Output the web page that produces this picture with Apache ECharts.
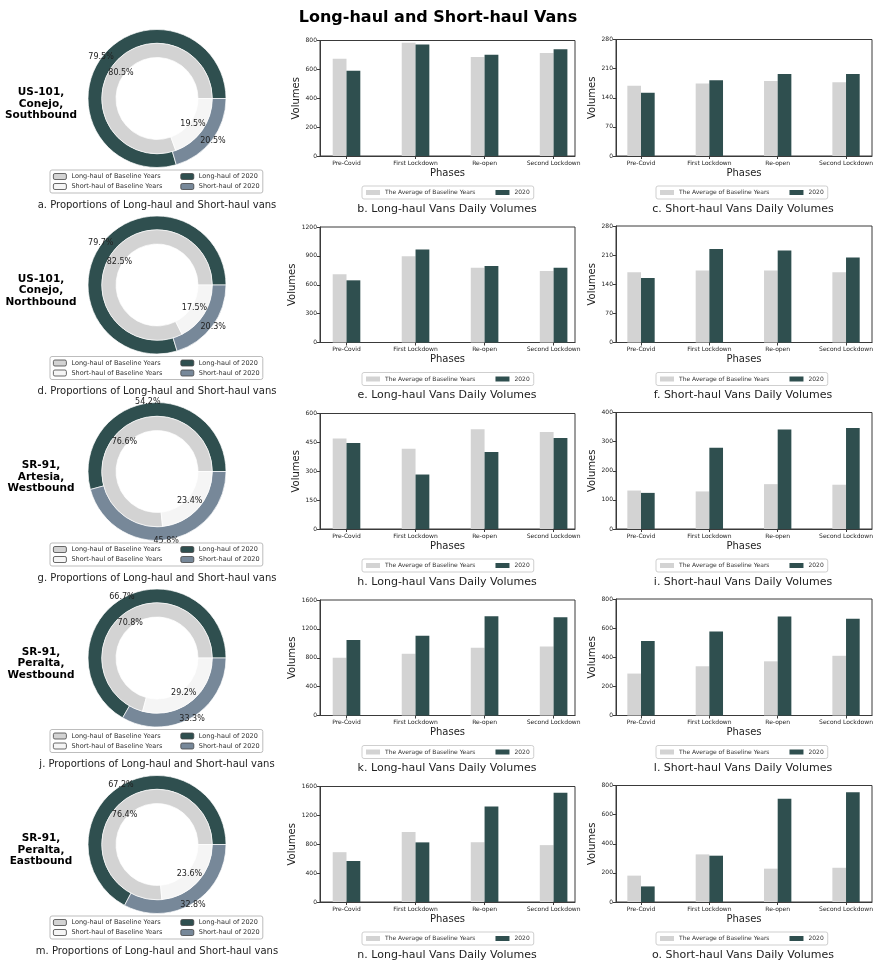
<!DOCTYPE html>
<html>
<head>
<meta charset="utf-8">
<script src="https://cdn.jsdelivr.net/npm/echarts@6/dist/echarts.min.js"></script>
<style>
  html, body { margin: 0; padding: 0; background: #fff; }
  #chart { width: 876px; height: 962px; }
</style>
</head>
<body>
<div id="chart"></div>
<script>
// Phases on the bar charts' x axis
const phases = ['Pre-Covid', 'First Lockdown', 'Re-open', 'Second Lockdown'];

// Count stations, one per row
const stations = [
  'US-101,\nConejo,\nSouthbound',
  'US-101,\nConejo,\nNorthbound',
  'SR-91,\nArtesia,\nWestbound',
  'SR-91,\nPeralta,\nWestbound',
  'SR-91,\nPeralta,\nEastbound'
];
const panelLetters = [['a', 'b', 'c'], ['d', 'e', 'f'], ['g', 'h', 'i'], ['j', 'k', 'l'], ['m', 'n', 'o']];

// Shares of long-haul and short-haul vans (%), per station
const share2020Long = [79.5, 79.7, 54.2, 66.7, 67.2];
const share2020Short = [20.5, 20.3, 45.8, 33.3, 32.8];
const shareBaseLong = [80.5, 82.5, 76.6, 70.8, 76.4];
const shareBaseShort = [19.5, 17.5, 23.4, 29.2, 23.6];

// Long-haul daily volumes per phase
const longBase = [
  [673, 784, 685, 713],
  [708, 897, 777, 743],
  [470, 417, 518, 504],
  [800, 855, 937, 955],
  [690, 968, 828, 788]
];
const long2020 = [
  [591, 772, 701, 739],
  [646, 966, 794, 777],
  [447, 283, 400, 473],
  [1047, 1106, 1376, 1362],
  [568, 826, 1322, 1512]
];

// Short-haul daily volumes per phase
const shortBase = [
  [169, 174, 180, 177],
  [169, 173, 173, 169],
  [132, 129, 154, 152],
  [288, 338, 372, 410],
  [181, 327, 229, 235]
];
const short2020 = [
  [152, 182, 197, 197],
  [155, 225, 221, 204],
  [124, 279, 342, 347],
  [512, 577, 680, 665],
  [107, 318, 709, 754]
];

// Y-axis tops (four equal tick steps each)
const longMax = [800, 1200, 600, 1600, 1600];
const shortMax = [280, 280, 400, 800, 800];

const C_LONG_2020 = '#2F4F4F';
const C_SHORT_2020 = '#778899';
const C_LONG_BASE = '#D3D3D3';
const C_SHORT_BASE = '#F5F5F5';
const TXT = '#222';
const FONT = 'DejaVu Sans';

const ROW = 186.5;
const grids = [], xAxes = [], yAxes = [], series = [], legends = [], graphics = [];

function barPanel(gi, left, top, width, height, xMin, xMax, yMax, base, cur) {
  grids.push({ left, top, width, height, show: true, borderColor: '#3a3a3a', borderWidth: 1, backgroundColor: 'transparent' });
  const ticks = phases.map((p, k) => k);
  xAxes.push({
    type: 'value', gridIndex: gi, min: xMin, max: xMax,
    axisLine: { show: true, onZero: false, lineStyle: { color: '#3a3a3a' } },
    splitLine: { show: false },
    axisTick: { show: true, customValues: ticks, length: 3, lineStyle: { color: '#3a3a3a' } },
    axisLabel: { customValues: ticks, formatter: v => phases[v], fontSize: 6, color: TXT, margin: 4, fontFamily: FONT },
    name: 'Phases', nameLocation: 'middle', nameGap: 12,
    nameTextStyle: { fontSize: 10, color: TXT, fontFamily: FONT }
  });
  yAxes.push({
    type: 'value', gridIndex: gi, min: 0, max: yMax, interval: yMax / 4,
    axisLine: { show: true, onZero: false, lineStyle: { color: '#3a3a3a' } },
    splitLine: { show: false },
    axisTick: { show: true, length: 3, lineStyle: { color: '#3a3a3a' } },
    axisLabel: { fontSize: 6, color: TXT, margin: 3, fontFamily: FONT, formatter: v => String(v) },
    name: 'Volumes', nameLocation: 'middle', nameGap: String(yMax).length * 4 + 3,
    nameTextStyle: { fontSize: 10, color: TXT, fontFamily: FONT }
  });
  series.push({
    type: 'bar', name: 'The Average of Baseline Years', xAxisIndex: gi, yAxisIndex: gi,
    data: base.map((v, k) => [k, v]), barWidth: '20%', barGap: '0%',
    itemStyle: { color: C_LONG_BASE }, silent: true
  });
  series.push({
    type: 'bar', name: '2020', xAxisIndex: gi, yAxisIndex: gi,
    data: cur.map((v, k) => [k, v]), barWidth: '20%', barGap: '0%',
    itemStyle: { color: C_LONG_2020 }, silent: true
  });
}

function barLegend(left, top) {
  legends.push({
    left, top, orient: 'horizontal', selectedMode: false,
    data: ['The Average of Baseline Years', '2020'],
    icon: 'rect', itemWidth: 14, itemHeight: 5, itemGap: 20,
    padding: [3, 4], borderColor: '#cfcfcf', borderWidth: 1, borderRadius: 2, backgroundColor: '#fff',
    textStyle: { fontSize: 6, color: '#333', fontFamily: FONT, lineHeight: 7 }
  });
}

function pctLabel(p) { return p.value.toFixed(1) + '%'; }

const pieBase = {
  type: 'pie', startAngle: 0, clockwise: false, avoidLabelOverlap: false,
  silent: true, legendHoverLink: false, emphasis: { disabled: true }, labelLine: { show: false }
};

for (let i = 0; i < stations.length; i++) {
  const off = ROW * i;
  const cy = 98.5 + off;
  const outerData = [
    { name: 'Long-haul of 2020', value: share2020Long[i], itemStyle: { color: C_LONG_2020 } },
    { name: 'Short-haul of 2020', value: share2020Short[i], itemStyle: { color: C_SHORT_2020 } }
  ];
  const innerData = [
    { name: 'Long-haul of Baseline Years', value: shareBaseLong[i], itemStyle: { color: C_LONG_BASE } },
    { name: 'Short-haul of Baseline Years', value: shareBaseShort[i], itemStyle: { color: C_SHORT_BASE } }
  ];
  // rings
  series.push(Object.assign({}, pieBase, {
    center: [157, cy], radius: [55, 69], data: outerData,
    itemStyle: { borderColor: '#fff', borderWidth: 0.7 }, label: { show: false }
  }));
  series.push(Object.assign({}, pieBase, {
    center: [157, cy], radius: [41, 55.3], data: innerData,
    itemStyle: { borderColor: '#fff', borderWidth: 0.7 }, label: { show: false }
  }));
  // percentage labels (transparent rings that only carry text)
  const labelStyle = { show: true, position: 'inside', formatter: pctLabel, fontSize: 8, color: TXT, fontFamily: FONT };
  series.push(Object.assign({}, pieBase, {
    center: [157, cy], radius: [62, 72],
    data: outerData.map(d => ({ name: d.name, value: d.value })),
    itemStyle: { color: 'rgba(0,0,0,0)', borderWidth: 0 }, label: labelStyle
  }));
  series.push(Object.assign({}, pieBase, {
    center: [157, cy], radius: [36, 46],
    data: innerData.map(d => ({ name: d.name, value: d.value })),
    itemStyle: { color: 'rgba(0,0,0,0)', borderWidth: 0 }, label: labelStyle
  }));

  // pie legend, two columns
  legends.push({
    left: 50, top: 170 + off, orient: 'horizontal', width: 260, selectedMode: false,
    icon: 'roundRect', itemWidth: 13, itemHeight: 6, itemGap: 3, padding: [3, 3],
    borderColor: '#bdbdbd', borderWidth: 1, borderRadius: 2, backgroundColor: '#fff',
    itemStyle: { borderColor: '#444', borderWidth: 0.8 },
    textStyle: { fontSize: 6.5, color: '#333', fontFamily: FONT, lineHeight: 7 },
    data: [
      { name: 'Long-haul of Baseline Years', textStyle: { width: 106 } },
      { name: 'Long-haul of 2020', textStyle: { width: 61 } },
      { name: 'Short-haul of Baseline Years', textStyle: { width: 106 } },
      { name: 'Short-haul of 2020', textStyle: { width: 61 } }
    ]
  });

  // bar panels
  barPanel(2 * i, 320, 40.5 + off, 255, 115.5, -0.384, 3.31, longMax[i], longBase[i], long2020[i]);
  barPanel(2 * i + 1, 616, 39.5 + off, 256, 116.5, -0.366, 3.38, shortMax[i], shortBase[i], short2020[i]);
  barLegend(362, 186 + off);
  barLegend(656, 186 + off);

  // station name
  graphics.push({
    type: 'text', silent: true,
    style: { text: stations[i], x: 41, y: 104 + off, textAlign: 'center', textVerticalAlign: 'middle',
      font: 'bold 10.5px "DejaVu Sans"', lineHeight: 11.5, fill: '#000' }
  });
  // captions
  graphics.push({
    type: 'text', silent: true,
    style: { text: panelLetters[i][0] + '. Proportions of Long-haul and Short-haul vans', x: 157, y: 205 + off,
      textAlign: 'center', textVerticalAlign: 'middle', font: '10px "DejaVu Sans"', fill: TXT }
  });
  graphics.push({
    type: 'text', silent: true,
    style: { text: panelLetters[i][1] + '. Long-haul Vans Daily Volumes', x: 447, y: 209 + off,
      textAlign: 'center', textVerticalAlign: 'middle', font: '11px "DejaVu Sans"', fill: TXT }
  });
  graphics.push({
    type: 'text', silent: true,
    style: { text: panelLetters[i][2] + '. Short-haul Vans Daily Volumes', x: 743, y: 209 + off,
      textAlign: 'center', textVerticalAlign: 'middle', font: '11px "DejaVu Sans"', fill: TXT }
  });
}

const chart = echarts.init(document.getElementById('chart'), null, { renderer: 'canvas' });
chart.setOption({
  backgroundColor: '#fff',
  animation: false,
  textStyle: { fontFamily: FONT },
  title: {
    text: 'Long-haul and Short-haul Vans', left: 'center', top: 5,
    textStyle: { fontSize: 16, fontWeight: 'bold', color: '#000', fontFamily: FONT }
  },
  grid: grids,
  xAxis: xAxes,
  yAxis: yAxes,
  legend: legends,
  series: series,
  graphic: graphics
});
</script>
</body>
</html>
